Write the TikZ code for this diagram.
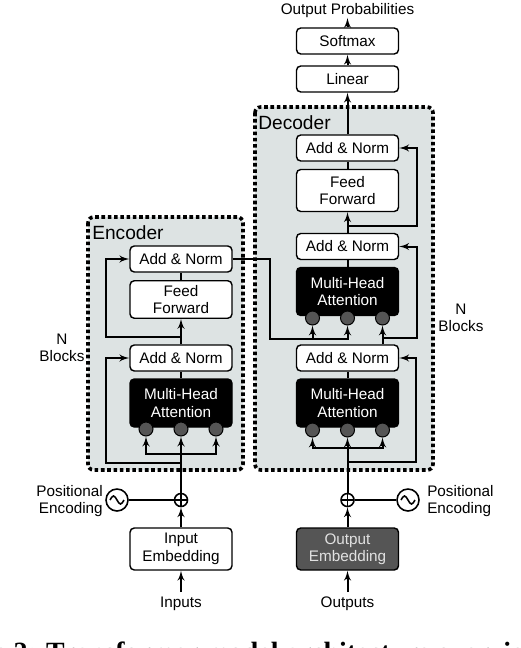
\documentclass[tikz,border=0pt]{standalone}
\usepackage{fontspec}
\setmainfont{Liberation Sans}
\newfontfamily\captionfont{Liberation Serif}
\usepackage{tikz}
\usetikzlibrary{calc,positioning,arrows}
\definecolor{stackgray}{RGB}{221,227,227}
\definecolor{headgray}{RGB}{85,85,85}
\definecolor{embedtext}{RGB}{225,225,225}
\tikzstyle{block} = [rectangle, draw, fill=white, text centered, align=center, line width=1pt,
    rounded corners=3pt, minimum width=71.4pt, minimum height=18.2pt, inner sep=0pt]
\tikzstyle{attn} = [block, fill=black, text=white, minimum height=33.6pt]
\tikzstyle{head} = [circle, draw, line width=0.7pt, fill=headgray, minimum size=9.8pt, inner sep=0pt]
\tikzstyle{stack} = [draw, fill=stackgray, line width=2.5pt, dash pattern=on 2.5pt off 1.9pt, rounded corners=4pt]
\tikzstyle{note} = [inner sep=0pt, align=center]
\tikzstyle{adder} = [circle, draw, line width=1.1pt, minimum size=9.1pt, inner sep=0pt,
    path picture={\draw (path picture bounding box.north) -- (path picture bounding box.south)
        (path picture bounding box.west) -- (path picture bounding box.east);}]
\tikzstyle{wave} = [circle, draw, line width=1.1pt, minimum size=15.4pt, inner sep=0pt,
    path picture={\draw [shift={(path picture bounding box.center)}]
        (-7,0) sin (-3.5,-4) cos (0,0) sin (3.5,4) cos (7,0);}]
\tikzstyle{line} = [draw, line width=1.4pt, -latex']
\tikzstyle{wire} = [draw, line width=1.4pt]

\begin{document}
\begin{tikzpicture}[x=0.7pt, y=-0.7pt, font=\fontsize{10.7}{12.2}\selectfont]
        \useasboundingbox (0,0) rectangle (520,648);
        % Stacks
        \path [stack] (88,217) rectangle (243,470);
        \path [stack] (255,107) rectangle (433,470);
        \node [note, anchor=west, font=\fontsize{13.4}{15}\selectfont] (EncTitle) at (92,232.5) {Encoder};
        \node [note, anchor=west, font=\fontsize{13.4}{15}\selectfont] (DecTitle) at (258,122.5) {Decoder};
        \node [note] (EncRepeat) at (62,348) {N\\Blocks};
        \node [note] (DecRepeat) at (461,318) {N\\Blocks};
        % Place encoder nodes
        \node [block] (EncAddNormB) at (181,259) {Add \& Norm};
        \node [block, minimum height=26.25pt] (EncFeed) at (181,299.5) {Feed\\Forward};
        \node [block] (EncAddNormA) at (181,358) {Add \& Norm};
        \node [attn] (EncAttn) at (181,403) {Multi-Head\\Attention};
        \node [head] (EncHeadL) at (146,429) {};
        \node [head] (EncHeadM) at (181,429) {};
        \node [head] (EncHeadR) at (216,429) {};
        \node [adder] (EncPlus) at (181,500) {};
        \node [wave] (EncWave) at (117,500) {};
        \node [note, anchor=east, align=right] (EncPos) at (103,501) {Positional\\Encoding};
        \node [block, minimum height=29.4pt] (InEmb) at (181,549) {Input\\Embedding};
        \node [below=15pt of InEmb] (Inputs) {Inputs};
        % Place decoder nodes
        \node [block] (Softmax) at (347.5,41) {Softmax};
        \node [block] (Linear) at (347.5,79) {Linear};
        \node [note] (OutProb) at (347.5,10.5) {Output Probabilities};
        \node [block] (DecAddNormC) at (347.5,148) {Add \& Norm};
        \node [block, minimum height=29.4pt] (DecFeed) at (347.5,190.5) {Feed\\Forward};
        \node [block] (DecAddNormB) at (347.5,246.5) {Add \& Norm};
        \node [attn] (DecAttnB) at (347.5,291.5) {Multi-Head\\Attention};
        \node [head] (DecHeadL2) at (312.5,318) {};
        \node [head] (DecHeadM2) at (347.5,318) {};
        \node [head] (DecHeadR2) at (382.5,318) {};
        \node [block] (DecAddNormA) at (347.5,358) {Add \& Norm};
        \node [attn] (DecAttnA) at (347.5,403) {Multi-Head\\Attention};
        \node [head] (DecHeadL1) at (312.5,430) {};
        \node [head] (DecHeadM1) at (347.5,430) {};
        \node [head] (DecHeadR1) at (382.5,430) {};
        \node [adder] (DecPlus) at (347.5,500) {};
        \node [wave] (DecWave) at (408,500) {};
        \node [note, anchor=west, align=left] (DecPos) at (427,501) {Positional\\Encoding};
        \node [block, minimum height=29.4pt, fill=headgray, text=embedtext] (OutEmb) at (347.5,549) {Output\\Embedding};
        \node [below=15pt of OutEmb] (Outputs) {Outputs};
        \node [anchor=base west, inner sep=0pt, font=\captionfont\bfseries\fontsize{19.5}{22}\selectfont] (Caption) at (-72,661) {Figure 2: Transformer model architecture overview};
        % Draw encoder edges
        \path [line] (Inputs) -- (InEmb);
        \path [line] (InEmb) -- (EncPlus);
        \path [wire] (EncWave) -- (EncPlus);
        \path [line] (EncPlus) -- (EncHeadM);
        \coordinate (EncSplit) at (181,454);
        \path [line] (EncSplit) -| (EncHeadL);
        \path [line] (EncSplit) -| (EncHeadR);
        \coordinate (EncSkipA) at (181,463);
        \path [line] (EncSkipA) -- ++(-75,0) |- (EncAddNormA);
        \path [wire] (EncAttn) -- (EncAddNormA);
        \path [line] (EncAddNormA) -- (EncFeed);
        \coordinate (EncSkipB) at (181,337);
        \path [line] (EncSkipB) -- ++(-75,0) |- (EncAddNormB);
        \path [wire] (EncFeed) -- (EncAddNormB);
        \coordinate (EncBend) at (270,339);
        \path [line] (EncAddNormB) -| (EncBend) -| (DecHeadM2);
        \path [line] (EncBend) -| (DecHeadL2);
        % Draw decoder edges
        \path [line] (Outputs) -- (OutEmb);
        \path [line] (OutEmb) -- (DecPlus);
        \path [wire] (DecWave) -- (DecPlus);
        \path [line] (DecPlus) -- (DecHeadM1);
        \coordinate (DecSplit) at (347.5,448);
        \path [line] (DecSplit) -| (DecHeadL1);
        \path [line] (DecSplit) -| (DecHeadR1);
        \coordinate (DecSkipA) at (347.5,462);
        \path [line] (DecSkipA) -- ++(68,0) |- (DecAddNormA);
        \path [wire] (DecAttnA) -- (DecAddNormA);
        \path [line] (DecAddNormA.north -| DecHeadR2) -- (DecHeadR2);
        \coordinate (DecSkipB) at (382.5,338);
        \path [line] (DecSkipB) -- ++(34,0) |- (DecAddNormB);
        \path [wire] (DecAttnB) -- (DecAddNormB);
        \path [line] (DecAddNormB) -- (DecFeed);
        \coordinate (DecSkipC) at (347.5,226);
        \path [line] (DecSkipC) -- ++(69,0) |- (DecAddNormC);
        \path [wire] (DecFeed) -- (DecAddNormC);
        \path [line] (DecAddNormC) -- (Linear);
        \path [line] (Linear) -- (Softmax);
        \path [line] (Softmax) -- (OutProb);
\end{tikzpicture}
\end{document}
